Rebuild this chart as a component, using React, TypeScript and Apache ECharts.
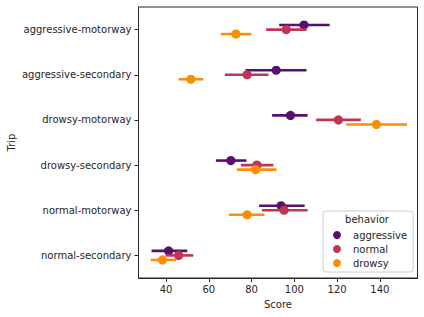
import React, { useEffect, useRef } from "react";
import * as echarts from "echarts";

const categories = [
  "aggressive-motorway",
  "aggressive-secondary",
  "drowsy-motorway",
  "drowsy-secondary",
  "normal-motorway",
  "normal-secondary",
];
const behaviors = ["aggressive", "normal", "drowsy"];
const colors = ["#57106e", "#bc3754", "#f98e09"];
const dodge = [-0.1, 0, 0.1];

const aggressiveMean = [104.5, 91.5, 98.2, 70.3, 93.8, 41.2];
const aggressiveLow = [92.9, 77.2, 89.6, 63.3, 83.5, 33.2];
const aggressiveHigh = [116.5, 105.7, 106.2, 77.6, 104.8, 49.9];

const normalMean = [96.2, 77.9, 120.6, 82.5, 95.2, 45.9];
const normalLow = [86.8, 67.5, 110.2, 75.0, 84.9, 39.8];
const normalHigh = [105.7, 87.9, 131.1, 90.2, 106.2, 52.7];

const drowsyMean = [72.7, 51.6, 138.4, 81.9, 77.9, 38.3];
const drowsyLow = [65.6, 45.9, 124.3, 73.2, 69.4, 32.8];
const drowsyHigh = [79.9, 57.4, 152.7, 91.6, 86.0, 44.7];

const xTicks = [40, 60, 80, 100, 120, 140];

const seriesStats = [
  { mean: aggressiveMean, low: aggressiveLow, high: aggressiveHigh },
  { mean: normalMean, low: normalLow, high: normalHigh },
  { mean: drowsyMean, low: drowsyLow, high: drowsyHigh },
];

const FONT = "DejaVu Sans";
const TXT = "#262626";

export default function App() {
  const ref = useRef<HTMLDivElement>(null);
  useEffect(() => {
    if (!ref.current) return;
    const chart = echarts.init(ref.current, undefined, { renderer: "svg" });
    const series = behaviors.map((b, bi) => ({
      type: "custom",
      name: b,
      itemStyle: { color: colors[bi] },
      encode: { x: 0, y: 1 },
      data: categories.map((c, ci) => [
        seriesStats[bi].mean[ci],
        c,
        seriesStats[bi].low[ci],
        seriesStats[bi].high[ci],
      ]),
      renderItem: (params: any, api: any) => {
        const cat = api.value(1);
        const band = api.size([0, 1])[1];
        const off = dodge[bi] * band;
        const p = api.coord([api.value(0), cat]);
        const lo = api.coord([api.value(2), cat]);
        const hi = api.coord([api.value(3), cat]);
        const y = p[1] + off;
        return {
          type: "group",
          children: [
            {
              type: "line",
              shape: { x1: lo[0], y1: y, x2: hi[0], y2: y },
              style: { stroke: colors[bi], lineWidth: 2.6 },
            },
            {
              type: "circle",
              shape: { cx: p[0], cy: y, r: 4.6 },
              style: { fill: colors[bi] },
            },
          ],
        };
      },
    }));

    chart.setOption({
      animation: false,
      textStyle: { fontFamily: FONT },
      title: {
        text: "behavior",
        left: 367,
        top: 214.5,
        textAlign: "center",
        textStyle: { fontFamily: FONT, fontSize: 10, fontWeight: "normal", color: TXT },
        padding: 0,
      },
      legend: {
        orient: "vertical",
        left: 323,
        top: 211,
        data: behaviors.map((b) => ({ name: b, icon: "circle" })),
        itemWidth: 8,
        itemHeight: 8,
        itemGap: 4,
        padding: [19, 6, 4, 10],
        borderColor: "#cccccc",
        borderWidth: 1,
        borderRadius: 3,
        textStyle: { fontFamily: FONT, fontSize: 10, color: TXT, padding: [0, 0, 0, 7] },
      },
      grid: {
        left: 138.5,
        right: 6.5,
        top: 7,
        bottom: 39,
        containLabel: false,
        outerBoundsMode: "none",
        show: true,
        borderColor: TXT,
        borderWidth: 1,
        backgroundColor: "transparent",
      },
      xAxis: {
        type: "value",
        min: 27.1,
        max: 157.6,
        name: "Score",
        nameLocation: "middle",
        nameGap: 21,
        nameMoveOverlap: false,
        nameTextStyle: { fontFamily: FONT, fontSize: 10, color: TXT },
        axisLine: { show: true, onZero: false, lineStyle: { color: TXT, width: 1 } },
        axisTick: { show: true, length: 4, customValues: xTicks, lineStyle: { color: TXT } },
        axisLabel: { customValues: xTicks, fontFamily: FONT, fontSize: 10, color: TXT, margin: 6 },
        splitLine: { show: false },
      },
      yAxis: {
        type: "category",
        data: categories,
        inverse: true,
        name: "Trip",
        nameLocation: "middle",
        nameGap: 122,
        nameMoveOverlap: false,
        nameRotate: 90,
        nameTextStyle: { fontFamily: FONT, fontSize: 10, color: TXT },
        axisLine: { show: true, lineStyle: { color: TXT, width: 1 } },
        axisTick: { show: true, alignWithLabel: true, length: 4, lineStyle: { color: TXT } },
        axisLabel: { fontFamily: FONT, fontSize: 10, color: TXT, margin: 7 },
        splitLine: { show: false },
      },
      series,
    });
    return () => chart.dispose();
  }, []);
  return (
    <div
      ref={ref}
      style={{ position: "absolute", left: 0, top: 0, width: 424, height: 317 }}
    />
  );
}
